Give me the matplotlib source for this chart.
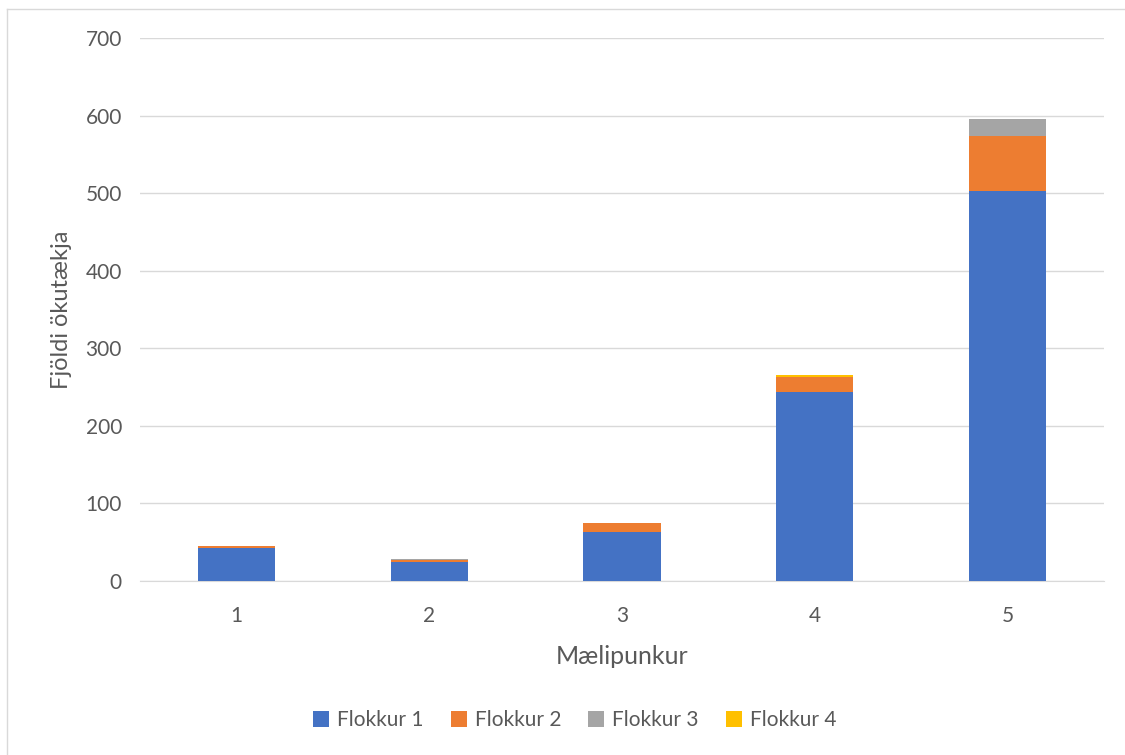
import numpy as np
import matplotlib.pyplot as plt
from matplotlib.lines import Line2D

plt.rcParams['font.family'] = ['Lato', 'DejaVu Sans']

categories = ["1", "2", "3", "4", "5"]
series_names = ["Flokkur 1", "Flokkur 2", "Flokkur 3", "Flokkur 4"]
flokkur1 = [43, 25, 63, 243, 503]
flokkur2 = [2, 2, 12, 20, 70]
flokkur3 = [0, 1, 0, 0, 23]
flokkur4 = [0, 0, 0, 2, 0]
colors = ["#4472C4", "#ED7D31", "#A5A5A5", "#FFC000"]

txt = "#595959"

fig = plt.figure(figsize=(11.25, 7.55), dpi=100)
ax = fig.add_axes([0.1244, 0.2305, 0.8569, 0.7192])

x = np.arange(len(categories))
bottom = np.zeros(len(categories))
for vals, name, c in zip([flokkur1, flokkur2, flokkur3, flokkur4], series_names, colors):
    ax.bar(x, vals, width=0.4, bottom=bottom, color=c, label=name, zorder=3)
    bottom += np.array(vals)

ax.set_xlim(-0.5, len(categories) - 0.5)
ax.set_ylim(0, 700)
ax.set_yticks(range(0, 701, 100))
ax.set_xticks(x)
ax.set_xticklabels(categories)
ax.grid(axis='y', color='#d9d9d9', linewidth=1, zorder=0)
ax.tick_params(length=0, labelsize=15, colors=txt)
ax.tick_params(axis='y', pad=13)
ax.tick_params(axis='x', pad=18)
for s in ['top', 'right', 'left']:
    ax.spines[s].set_visible(False)
ax.spines['bottom'].set_color('#d9d9d9')

ax.set_ylabel("Fjöldi ökutækja", fontsize=17, color=txt, labelpad=10)
ax.set_xlabel("Mælipunkur", fontsize=18, color=txt, labelpad=14)

fig.legend(loc='center', bbox_to_anchor=(0.511, 0.046), ncol=4, frameon=False,
           fontsize=15, handlelength=0.75, handleheight=0.75, handletextpad=0.4,
           columnspacing=1.3, labelcolor=txt)

# outer chart frame
fig.add_artist(Line2D([7 / 1125, 7 / 1125], [0, 1 - 9 / 755], color='#d9d9d9', lw=1))
fig.add_artist(Line2D([7 / 1125, 1], [1 - 9 / 755, 1 - 9 / 755], color='#d9d9d9', lw=1))

fig.savefig("out.png", dpi=100)
